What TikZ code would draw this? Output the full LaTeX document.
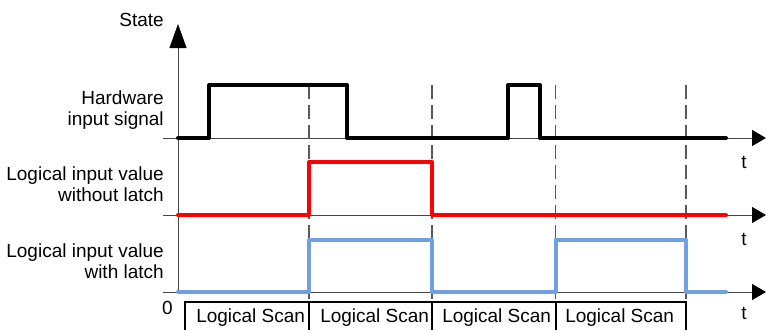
\documentclass[tikz,border=0pt]{standalone}
\usepackage{fontspec}
\setmainfont{Liberation Sans}
\usepackage{xcolor}
\usepackage{tikz}
\usetikzlibrary{arrows.meta}
\definecolor{sigblue}{RGB}{114,159,222}
\definecolor{axisgray}{RGB}{70,70,70}
\definecolor{dashgray}{RGB}{90,90,90}

\begin{document}
\begin{tikzpicture}[x=0.75pt,y=0.75pt,yscale=-1,xscale=1,
  axis/.style={color=axisgray,line width=0.75pt},
  taxis/.style={axis,-{Triangle[width=12pt,length=10.5pt,color=black]}},
  signal/.style={line width=3pt,line cap=round,line join=round},
  scanline/.style={color=dashgray,line width=0.8pt,dash pattern=on 10.5pt off 4.5pt},
  scanbox/.style={draw=black,line width=1.5pt},
  lbl/.style={inner sep=0pt,font=\fontsize{14.25}{16.3}\selectfont}]
%set diagram size to 766 x 329
\useasboundingbox (0,0) rectangle (766,329);
\clip (0,0) rectangle (766,329);

%Straight Lines: state axis
\draw [axis,-{Triangle[width=12.75pt,length=18pt,color=black]}] (178,293) -- (178,24) ;
%Straight Lines: time axes
\draw [taxis] (163,138) -- (766,138) ;
\draw [taxis] (163,215) -- (766,215) ;
\draw [taxis] (163,292) -- (766,292) ;

%Straight Lines: scan borders
\draw [scanline] (309,85) -- (309,302) ;
\draw [scanline] (432,85) -- (432,302) ;
\draw [scanline] (555.5,85) -- (555.5,302) ;
\draw [scanline] (686,85) -- (686,302) ;

%Shape: Rectangle (scan boxes)
\draw [scanbox] (185,302) rectangle (309,345) ;
\draw [scanbox] (309,302) rectangle (432,345) ;
\draw [scanbox] (432,302) rectangle (555.5,345) ;
\draw [scanbox] (555.5,302) rectangle (686,345) ;

%Straight Lines: hardware input signal
\draw [signal,color=black] (178,138) -- (209,138) -- (209,85) -- (347,85) -- (347,138) -- (508,138) -- (508,85) -- (540,85) -- (540,138) -- (726,138) ;
%Straight Lines: logical value without latch
\draw [signal,color=red] (178,215) -- (309,215) -- (309,162) -- (432,162) -- (432,215) -- (726,215) ;
%Straight Lines: logical value with latch
\draw [signal,color=sigblue] (178,291.5) -- (309,291.5) -- (309,240) -- (432,240) -- (432,291.5) -- (555.5,291.5) -- (555.5,240) -- (686,240) -- (686,291.5) -- (726,291.5) ;

% Text Node
\node [lbl,anchor=base east] (state) at (164,26) {State};
% Text Node
\node [lbl,anchor=north east,align=right] (hwlbl) at (164,90) {Hardware\\input signal};
% Text Node
\node [lbl,anchor=north east,align=right] (nolatchlbl) at (164,166) {Logical input value\\without latch};
% Text Node
\node [lbl,anchor=north east,align=right] (latchlbl) at (164,243) {Logical input value\\with latch};
% Text Node
\node [lbl,anchor=base] (zero) at (167.5,314) {0};
% Text Node
\node [lbl,anchor=base] (t1) at (744,168) {t};
% Text Node
\node [lbl,anchor=base] (t2) at (744,245) {t};
% Text Node
\node [lbl,anchor=base] (t3) at (744,319) {t};
% Text Node
\node [lbl,anchor=base west] (scan1) at (196,322) {Logical Scan};
% Text Node
\node [lbl,anchor=base west] (scan2) at (320,322) {Logical Scan};
% Text Node
\node [lbl,anchor=base west] (scan3) at (442,322) {Logical Scan};
% Text Node
\node [lbl,anchor=base west] (scan4) at (565,322) {Logical Scan};

\end{tikzpicture}
\end{document}
